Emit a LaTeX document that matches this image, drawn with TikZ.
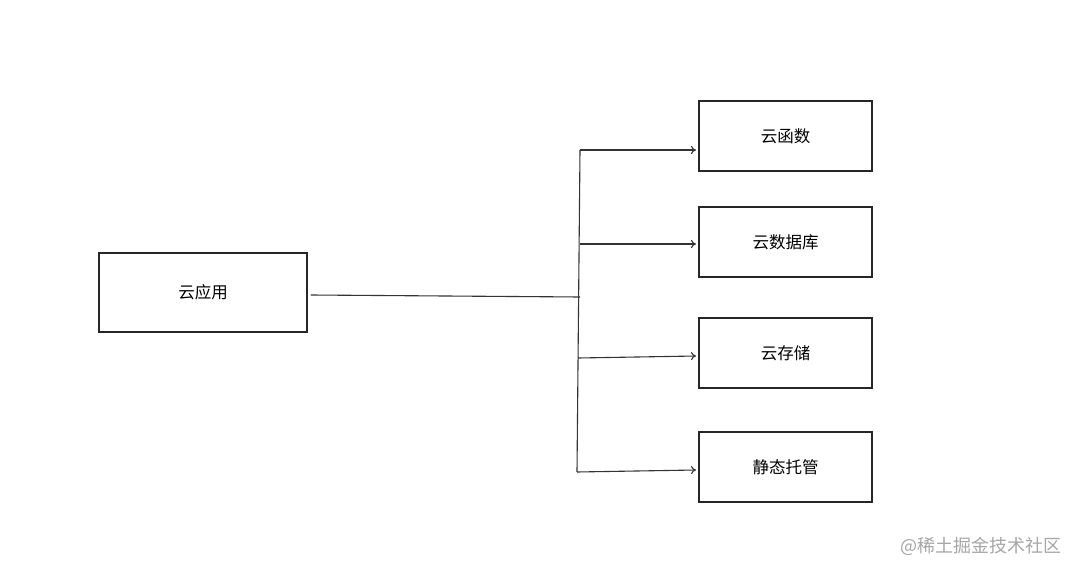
\documentclass[tikz,border=0pt]{standalone}
\usepackage{fontspec}
\usetikzlibrary{arrows.meta}
\newfontfamily\cjk{Noto Sans CJK SC}
\begin{document}
\begin{tikzpicture}[x=1pt,y=-1pt,
  box/.style={draw=black!85, line width=1.5pt, minimum width=173pt, minimum height=70pt, inner sep=0pt, font=\cjk\fontsize{16.5}{18}\selectfont},
  conn/.style={draw=black!80, line width=1.1pt},
  arr/.style={conn, -{To[length=5pt,width=8pt]}}]
\useasboundingbox (0,0) rectangle (1080,575);
\fill[white] (0,0) rectangle (1080,575);
\node[box, minimum width=208pt, minimum height=79pt] (app) at (203,292.5) {云应用};
\node[box] (fn) at (785.5,136) {云函数};
\node[box] (db) at (785.5,242) {云数据库};
\node[box] (st) at (785.5,353) {云存储};
\node[box] (host) at (785.5,467) {静态托管};
\coordinate (j0) at (580,297);
\coordinate (j1) at (580,150);
\coordinate (j2) at (580,244);
\coordinate (j3) at (578,358);
\coordinate (j4) at (577,472);
\coordinate (e1) at (696,150);
\coordinate (e2) at (696,244);
\coordinate (e3) at (696,356);
\coordinate (e4) at (696,470);
\draw[conn] ([xshift=3pt,yshift=-2.5pt]app.east) -- (j0);
\draw[conn] (j1) -- (j4);
\draw[arr] (j1) -- (e1);
\draw[arr] (j2) -- (e2);
\draw[arr] (j3) -- (e3);
\draw[arr] (j4) -- (e4);
\node[font=\cjk\fontsize{18}{20}\selectfont, text=black!35, anchor=west, inner sep=0pt] (wm) at (900,546) {@稀土掘金技术社区};
\end{tikzpicture}
\end{document}
